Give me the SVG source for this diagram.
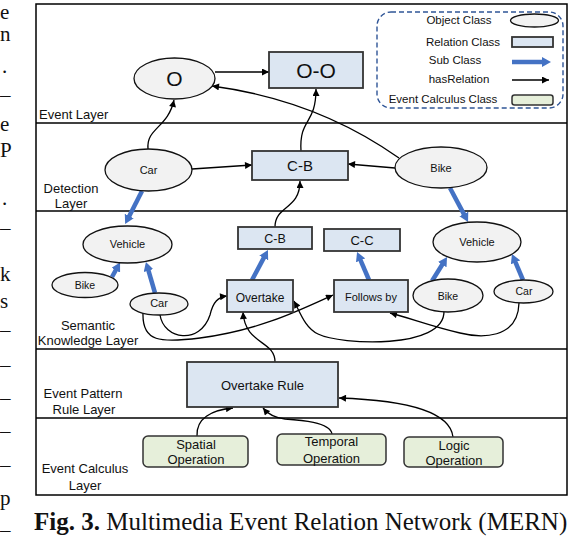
<svg xmlns="http://www.w3.org/2000/svg" width="570" height="542" viewBox="0 0 570 542">
<style>
.t{font-family:"Liberation Sans",Arial,sans-serif;fill:#111;text-anchor:middle}
.lay{font-family:"Liberation Sans",Arial,sans-serif;fill:#111;font-size:13px;text-anchor:middle}
.serif{font-family:"Liberation Serif","Times New Roman",serif;fill:#111}
.obj{fill:#f2f2f2;stroke:#111;stroke-width:1.3}
.rel{fill:#dce6f2;stroke:#333;stroke-width:1.8}
.ec{fill:#e6efda;stroke:#333;stroke-width:1.5}
.line{fill:none;stroke:#000;stroke-width:1.5}
.hr{fill:none;stroke:#000;stroke-width:1.3;marker-end:url(#ah)}
.sub{fill:none;stroke:#4472c4;stroke-width:4.5;marker-end:url(#bh)}
</style>
<defs>
<marker id="ah" viewBox="0 0 10 10" markerUnits="userSpaceOnUse" markerWidth="8" markerHeight="7" refX="10" refY="5" orient="auto"><path d="M0,0 L10,5 L0,10 z" fill="#000"/></marker>
<marker id="bh" viewBox="0 0 9 10" markerUnits="userSpaceOnUse" markerWidth="9" markerHeight="10" refX="1" refY="5" orient="auto"><path d="M0,0 L9,5 L0,10 z" fill="#4472c4"/></marker>
</defs>
<rect width="570" height="542" fill="#fff"/>

<g id="margin-text" class="serif" font-size="21" text-anchor="start">
<text x="0" y="19">e</text>
<text x="0" y="41">n</text>
<text x="2" y="73">.</text>
<text x="0" y="102">–</text>
<text x="0" y="131">e</text>
<text x="0" y="157">P</text>
<text x="2" y="205">.</text>
<text x="0" y="235">–</text>
<text x="0" y="281">k</text>
<text x="0" y="308">s</text>
<text x="0" y="337">–</text>
<text x="0" y="372">–</text>
<text x="0" y="405">–</text>
<text x="0" y="438">–</text>
<text x="0" y="472">–</text>
<text x="0" y="505">p</text>
<text x="0" y="537">–</text>
</g>

<g id="frame">
<rect x="36" y="4" width="531" height="491" fill="none" stroke="#000" stroke-width="1.5"/>
<line class="line" x1="36" y1="123" x2="567" y2="123"/>
<line class="line" x1="36" y1="211" x2="567" y2="211"/>
<line class="line" x1="36" y1="349" x2="567" y2="349"/>
<line class="line" x1="36" y1="418" x2="567" y2="418"/>
</g>

<g id="layer-labels" class="lay">
<text x="39" y="118.5" text-anchor="start">Event Layer</text>
<text x="71" y="192.5">Detection</text>
<text x="71" y="207.5">Layer</text>
<text x="88" y="329.5">Semantic</text>
<text x="88" y="344.5">Knowledge Layer</text>
<text x="83" y="397.5">Event Pattern</text>
<text x="84" y="413.5">Rule Layer</text>
<text x="85" y="472.5">Event Calculus</text>
<text x="85" y="489.5">Layer</text>
</g>

<g id="legend">
<rect x="377" y="12" width="186" height="96" rx="14" fill="none" stroke="#2f5597" stroke-width="1.4" stroke-dasharray="5,3"/>
<g class="t" font-size="11.5">
<text x="459" y="24">Object Class</text>
<text x="463" y="46">Relation Class</text>
<text x="455" y="64">Sub Class</text>
<text x="459" y="83">hasRelation</text>
<text x="443" y="103">Event Calculus Class</text>
</g>
<ellipse class="obj" cx="534.5" cy="20.5" rx="24" ry="6.5"/>
<rect class="rel" x="512" y="37" width="41" height="10"/>
<path class="sub" d="M512,62 L543,62"/>
<path class="hr" d="M512,80 L549,80"/>
<rect class="ec" x="512" y="95" width="41" height="10" rx="2.5"/>
</g>

<g id="connectors">
<path class="hr" d="M215,72 L269,72"/>
<path class="hr" d="M148,149 C146,128 168,128 174,100"/>
<path class="hr" d="M399,158 Q317,100 212,86"/>
<path class="hr" d="M301,151 C299,118 316,125 316,89"/>
<path class="hr" d="M192,169 L252,165"/>
<path class="hr" d="M395,168 L348,164"/>
<path class="hr" d="M275,227 C275,205 300,210 300,181"/>
<path class="hr" d="M160,315 C164,340 200,345 210,315 C213,302 218,297 227,296"/>
<path class="hr" d="M143,313 C142,342 160,343 200,338 C260,330 300,310 333,295"/>
<path class="hr" d="M444,311 C445,350 340,345 318,334 C305,328 300,312 294,301"/>
<path class="hr" d="M519,303 C518,340 480,338 460,333 C430,326 410,318 390,313"/>
<path class="hr" d="M275,362 C275,340 245,345 243,312"/>
<path class="hr" d="M197,436 C196,418 212,410 233,408"/>
<path class="hr" d="M332,434 C330,422 300,420 285,419 C275,418 268,414 263,408"/>
<path class="hr" d="M453,437 C450,410 400,400 339,398"/>
<path class="sub" d="M142,191 L128.8,216.9"/>
<path class="sub" d="M450,188 L464.3,214.9"/>
<path class="sub" d="M112,277 L116.2,269.4"/>
<path class="sub" d="M155,293 L148.2,269.7"/>
<path class="sub" d="M252,280 L264.2,257.1"/>
<path class="sub" d="M369,280 L360.2,259.4"/>
<path class="sub" d="M432,281 L442.8,263.8"/>
<path class="sub" d="M523,280 L515.1,261.4"/>
</g>

<g id="node-O"><ellipse class="obj" cx="174.5" cy="78.5" rx="40.5" ry="20.5"/><text class="t" x="174.5" y="86" font-size="21">O</text></g>
<g id="node-OO"><rect class="rel" x="269" y="52" width="94" height="36"/><text class="t" x="316" y="77.5" font-size="21">O-O</text></g>

<g id="node-det-car"><ellipse class="obj" cx="148.5" cy="170" rx="43.5" ry="21"/><text class="t" x="148.5" y="174" font-size="11">Car</text></g>
<g id="node-det-cb"><rect class="rel" x="252" y="151" width="96" height="29"/><text class="t" x="300" y="171" font-size="15">C-B</text></g>
<g id="node-det-bike"><ellipse class="obj" cx="441" cy="167.5" rx="46" ry="20.5"/><text class="t" x="441" y="172" font-size="11">Bike</text></g>

<g id="node-sem-vehicle-l"><ellipse class="obj" cx="127.5" cy="244.5" rx="44.5" ry="18.5"/><text class="t" x="127.5" y="247.5" font-size="11">Vehicle</text></g>
<g id="node-sem-bike-l"><ellipse class="obj" cx="85" cy="285" rx="33" ry="12.5"/><text class="t" x="85" y="288.5" font-size="10.5">Bike</text></g>
<g id="node-sem-car-l"><ellipse class="obj" cx="159" cy="304" rx="29" ry="11"/><text class="t" x="159" y="307" font-size="11">Car</text></g>
<g id="node-sem-cb"><rect class="rel" x="238" y="227" width="74" height="22"/><text class="t" x="275" y="243" font-size="12.5">C-B</text></g>
<g id="node-overtake"><rect class="rel" x="227" y="280" width="66" height="32"/><text class="t" x="260" y="301.5" font-size="12">Overtake</text></g>
<g id="node-sem-cc"><rect class="rel" x="324" y="229" width="76" height="22"/><text class="t" x="362" y="245" font-size="13">C-C</text></g>
<g id="node-follows"><rect class="rel" x="334" y="280" width="74" height="32"/><text class="t" x="371" y="300.5" font-size="11">Follows by</text></g>
<g id="node-sem-vehicle-r"><ellipse class="obj" cx="477" cy="242" rx="44" ry="20"/><text class="t" x="477" y="246" font-size="11">Vehicle</text></g>
<g id="node-sem-bike-r"><ellipse class="obj" cx="448" cy="295.5" rx="35" ry="16.5"/><text class="t" x="448" y="299.5" font-size="10.5">Bike</text></g>
<g id="node-sem-car-r"><ellipse class="obj" cx="523.5" cy="291.5" rx="29.5" ry="11.5"/><text class="t" x="524" y="295" font-size="10.5">Car</text></g>

<g id="node-overtake-rule"><rect class="rel" x="187" y="362" width="151" height="45"/><text class="t" x="262.5" y="390" font-size="13">Overtake Rule</text></g>

<g id="node-spatial"><rect class="ec" x="143" y="436" width="105" height="31" rx="5"/><text class="t" x="196" y="448.5" font-size="13">Spatial</text><text class="t" x="196" y="463.5" font-size="13">Operation</text></g>
<g id="node-temporal"><rect class="ec" x="277" y="434" width="109" height="31" rx="5"/><text class="t" x="331.5" y="446" font-size="13">Temporal</text><text class="t" x="331.5" y="462.5" font-size="13">Operation</text></g>
<g id="node-logic"><rect class="ec" x="404" y="437" width="99" height="30" rx="5"/><text class="t" x="454" y="449.5" font-size="13">Logic</text><text class="t" x="454" y="464.5" font-size="13">Operation</text></g>

<g id="caption"><text class="serif" x="34" y="530" font-size="25"><tspan font-weight="bold">Fig. 3.</tspan> Multimedia Event Relation Network (MERN)</text></g>
</svg>
